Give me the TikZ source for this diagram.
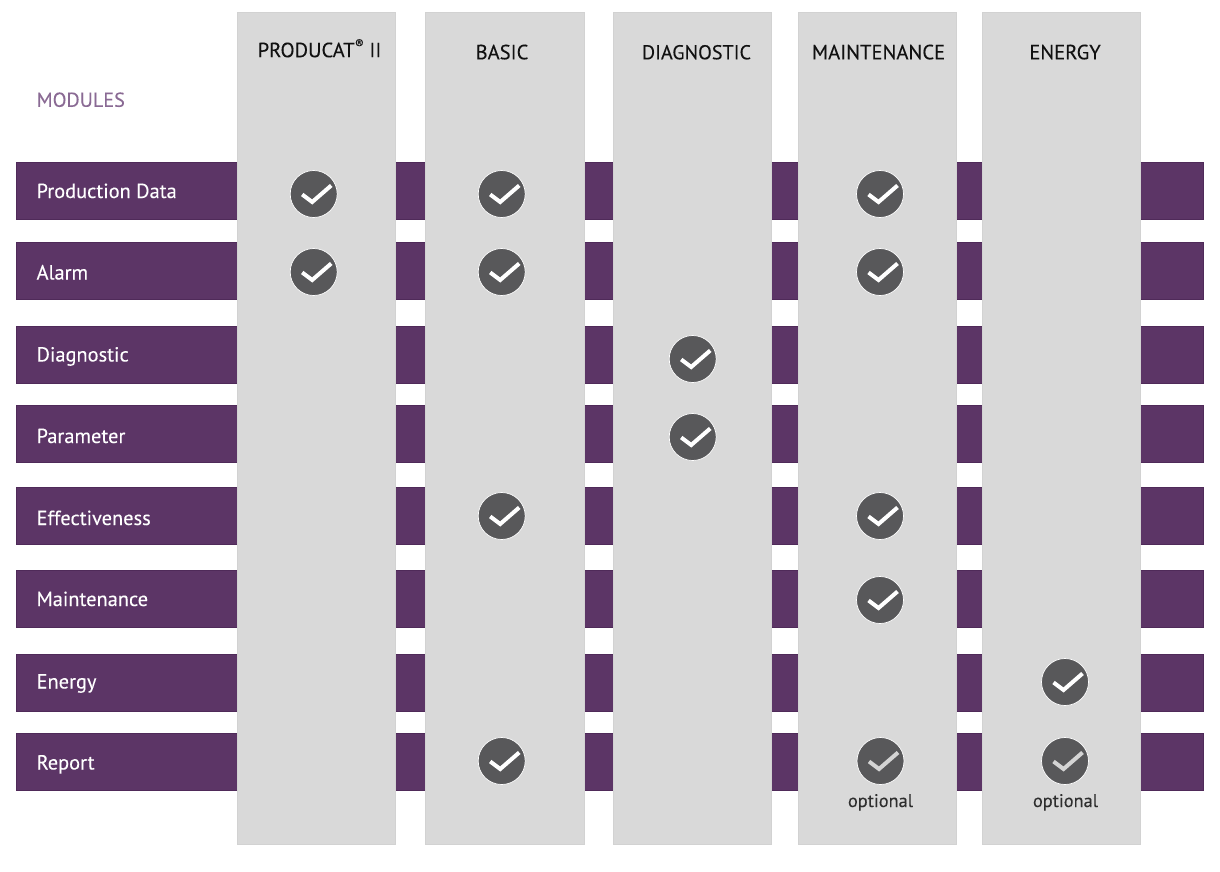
\documentclass[tikz,border=0pt]{standalone}
\usepackage{fontspec}
\setmainfont[FakeBold=0.12]{PT Sans}
\definecolor{barpurple}{HTML}{5C3566}
\definecolor{barline}{HTML}{4F2A59}
\definecolor{colgrey}{HTML}{D9D9D9}
\definecolor{colline}{HTML}{D2D2D2}
\definecolor{disc}{HTML}{58585A}
\definecolor{modtxt}{HTML}{8A6A94}
\definecolor{optcheck}{HTML}{D4D4D4}
\definecolor{txtdark}{HTML}{111111}
\definecolor{opttxt}{HTML}{2E2E2E}
\newcommand{\fsz}[1]{\fontsize{#1}{#1}\selectfont}
\tikzset{
  x=1pt,y=-1pt,
  barbox/.style={fill=barpurple,draw=barline,line width=0.6pt},
  colbox/.style={fill=colgrey,draw=colline,line width=0.5pt},
  rowlabel/.style={anchor=base west,inner sep=0pt,text=white,font=\fsz{20.4}},
  colhead/.style={anchor=base,inner sep=0pt,text=txtdark,font=\fsz{20.6}},
  disc/.style={circle,minimum size=47pt,inner sep=0pt,fill=disc,draw=white,line width=0.7pt},
  tick/.style={draw=white,line width=4pt,line join=miter},
  opttick/.style={tick,draw=optcheck},
  opttext/.style={anchor=base,inner sep=0pt,text=opttxt,font=\fsz{18.3}},
}
\newcommand{\chk}[4][tick]{% style, name, x, y
  \node[disc] (#2) at (#3,#4) {};
  \draw[#1] ([shift={(-11.5,0.5)}]#2.center) -- ([shift={(-1.5,8)}]#2.center) -- ([shift={(17.5,-8.5)}]#2.center);
}
\begin{document}
\begin{tikzpicture}
\useasboundingbox (0,0) rectangle (1220,872);
\fill[white] (0,0) rectangle (1220,872);
% bars
\foreach \t/\b in {162/219.6,242/299.6,326/383.6,405/462.6,487/544.6,570/627.6,654/711.6,733/790.6}{
  \path[barbox] (16,\t) rectangle (1203.6,\b);
}
% columns
\foreach \l/\r in {237/395.6,425/584.6,613/771.6,798/956.6,982/1140.6}{
  \path[colbox] (\l,12) rectangle (\r,844.6);
}
% headers
\node[anchor=base west,inner sep=0pt,text=modtxt,font=\fsz{20.2}] (modules) at (36.5,106.8) {MODULES};
\node[colhead] (h1) at (319.5,57.2) {PRODUCAT\raisebox{0.42em}{\fsz{13}®} II};
\node[colhead] (h2) at (502,59.3) {BASIC};
\node[colhead,font=\fsz{20.1}] (h3) at (696.5,59.3) {DIAGNOSTIC};
\node[colhead] (h4) at (878.5,59.3) {MAINTENANCE};
\node[colhead] (h5) at (1065,59.3) {ENERGY};
% row labels
\node[rowlabel] (r1) at (36.4,198) {Production Data};
\node[rowlabel] (r2) at (36.4,279.5) {Alarm};
\node[rowlabel] (r3) at (36.4,361.5) {Diagnostic};
\node[rowlabel] (r4) at (36.4,443) {Parameter};
\node[rowlabel] (r5) at (36.4,525) {Effectiveness};
\node[rowlabel] (r6) at (36.4,606) {Maintenance};
\node[rowlabel] (r7) at (36.4,688.5) {Energy};
\node[rowlabel] (r8) at (36.4,769.5) {Report};
% checks
\chk{c11}{313.7}{194}
\chk{c12}{501.7}{194}
\chk{c14}{880}{194}
\chk{c21}{313.7}{272}
\chk{c22}{501.7}{272}
\chk{c24}{880}{272}
\chk{c33}{692.7}{359}
\chk{c43}{692.7}{437}
\chk{c52}{501.7}{516}
\chk{c54}{880}{516}
\chk{c64}{880}{600}
\chk{c75}{1065}{682}
\chk{c82}{501.7}{761}
\chk[opttick]{c84}{880.5}{761}
\chk[opttick]{c85}{1065}{761}
\node[opttext] (o4) at (880.5,807) {optional};
\node[opttext] (o5) at (1065.5,807) {optional};
\end{tikzpicture}
\end{document}
